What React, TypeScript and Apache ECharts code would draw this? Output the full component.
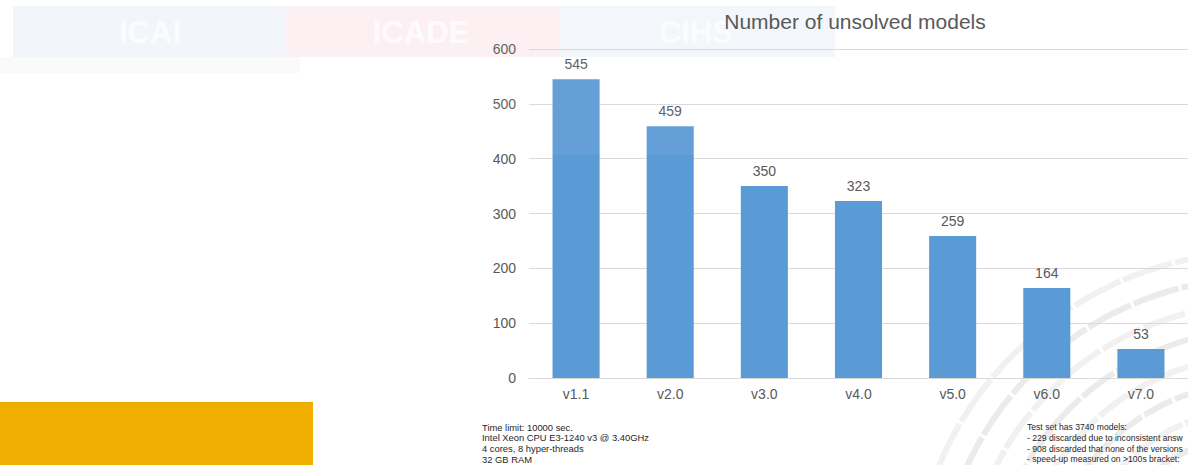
import React, { useEffect, useRef } from "react";
import * as echarts from "echarts";

const categories = ["v1.1", "v2.0", "v3.0", "v4.0", "v5.0", "v6.0", "v7.0"];
const unsolved = [545, 459, 350, 323, 259, 164, 53];
const yTicks = { min: 0, max: 600, interval: 100 };
const chartTitle = "Number of unsolved models";
const leftNotes = [
  "Time limit: 10000 sec.",
  "Intel Xeon CPU E3-1240 v3 @ 3.40GHz",
  "4 cores, 8 hyper-threads",
  "32 GB RAM",
];
const rightNotes = [
  "Test set has 3740 models:",
  "- 229 discarded due to inconsistent answ",
  "- 908 discarded that none of the versions",
  "- speed-up measured on >100s bracket:",
];
const logos = ["ICAI", "ICADE", "CIHS"];

export default function App() {
  const ref = useRef<HTMLDivElement>(null);
  useEffect(() => {
    if (!ref.current) return;
    const chart = echarts.init(ref.current, undefined, { renderer: "svg" });
    const font = "'Liberation Sans', Arial, sans-serif";
    const logoRects = [
      { x: 13, w: 273, fill: "#f2f5fa", cx: 150 },
      { x: 286, w: 274, fill: "#fcf0f3", cx: 421 },
      { x: 560, w: 275, fill: "#f3f6fa", cx: 696 },
    ];
    const graphics: any[] = [];
    graphics.push({
      type: "rect", z: -20,
      shape: { x: 0, y: 57, width: 300, height: 16 },
      style: { fill: "#fafafa" },
    });
    logoRects.forEach((r, i) => {
      graphics.push({
        type: "rect", z: -20,
        shape: { x: r.x, y: 6, width: r.w, height: 51 },
        style: { fill: r.fill },
      });
      graphics.push({
        type: "text", z: -19,
        style: {
          text: logos[i], x: r.cx, y: 32, align: "center", verticalAlign: "middle",
          font: `bold 31px ${font}`, fill: "rgba(255,255,255,0.75)",
        },
      });
    });
    // decorative arcs bottom-right
    for (let k = 0; k < 9; k++) {
      graphics.push({
        type: "arc", z: -15,
        shape: { cx: 1260, cy: 600, r: 140 + k * 26, startAngle: Math.PI * 1.0, endAngle: Math.PI * 1.5 },
        style: { stroke: k % 2 ? "#ebebeb" : "#f1f1f1", lineWidth: 6, fill: "none" },
      });
    }
    for (let k = 0; k < 10; k++) {
      const a = Math.PI * (1.02 + k * 0.05);
      graphics.push({
        type: "line", z: -14,
        shape: {
          x1: 1260 + 130 * Math.cos(a), y1: 600 + 130 * Math.sin(a),
          x2: 1260 + 380 * Math.cos(a), y2: 600 + 380 * Math.sin(a),
        },
        style: { stroke: "#ffffff", lineWidth: 3 },
      });
    }
    graphics.push({
      type: "rect", z: 1,
      shape: { x: 0, y: 402, width: 313, height: 63 },
      style: { fill: "#efae00" },
    });
    graphics.push({
      type: "rect", z: 20, silent: true,
      shape: { x: 430, y: 40, width: 410, height: 115 },
      style: { fill: "rgba(255,255,255,0.06)" },
    });
    leftNotes.forEach((t, i) => {
      graphics.push({
        type: "text", z: 5,
        style: { text: t, x: 482, y: 427 + i * 10.8, verticalAlign: "middle", font: `9.4px ${font}`, fill: "#262626" },
      });
    });
    rightNotes.forEach((t, i) => {
      graphics.push({
        type: "text", z: 5,
        style: { text: t, x: 1027, y: 427 + i * 10.8, verticalAlign: "middle", font: `8.6px ${font}`, fill: "#262626" },
      });
    });

    chart.setOption({
      animation: false,
      title: {
        text: chartTitle, left: 850, top: 6, textAlign: "center",
        textStyle: { fontFamily: font, fontSize: 21, fontWeight: "normal", color: "#595959" },
      },
      grid: { left: 529, top: 49, width: 668, height: 329, containLabel: false },
      xAxis: {
        type: "category", data: categories,
        axisLine: { lineStyle: { color: "#d9d9d9" } },
        axisTick: { show: false },
        axisLabel: { color: "#595959", fontFamily: font, fontSize: 14, margin: 9 },
      },
      yAxis: {
        type: "value", ...yTicks,
        axisLine: { show: false }, axisTick: { show: false },
        axisLabel: { color: "#595959", fontFamily: font, fontSize: 14, margin: 13 },
        splitLine: { lineStyle: { color: "#d9d9d9" } },
      },
      series: [{
        type: "bar", data: unsolved, barCategoryGap: "50%",
        itemStyle: { color: "#5b9bd5" },
        label: { show: true, position: "top", distance: 8, color: "#595959", fontFamily: font, fontSize: 14 },
      }],
      graphic: graphics,
    });
    return () => chart.dispose();
  }, []);
  return <div ref={ref} style={{ position: "absolute", left: 0, top: 0, width: 1188, height: 465, overflow: "hidden" }} />;
}
